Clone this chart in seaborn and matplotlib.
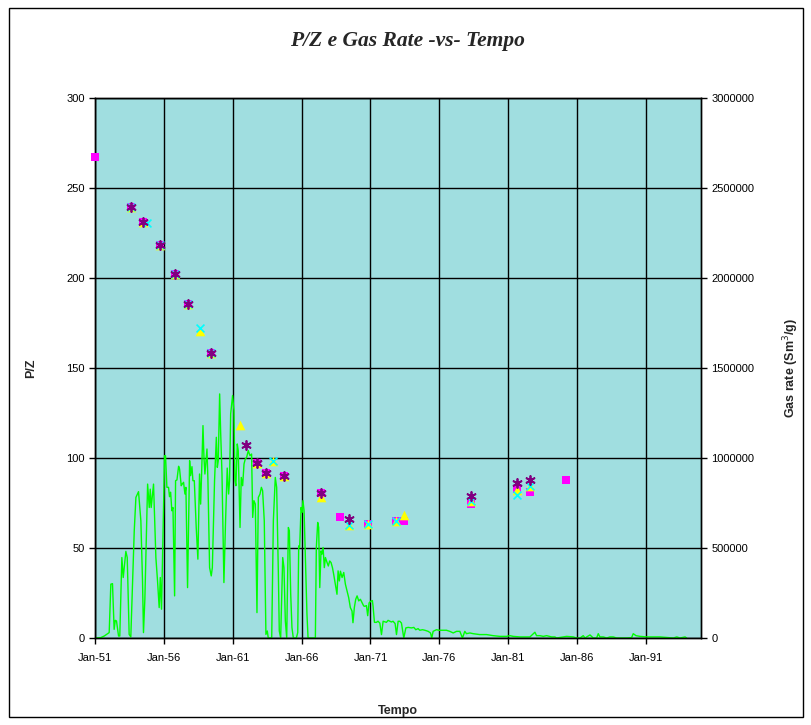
import matplotlib
matplotlib.use("Agg")
import matplotlib.pyplot as plt
import matplotlib.dates as mdates
from matplotlib.patches import Rectangle
from matplotlib.ticker import FuncFormatter, MultipleLocator
import pandas as pd
import seaborn as sns

# P/Z readings (decimal year, P/Z) - four measurement series
sq_year = [1951.00, 1953.63, 1954.50, 1955.74, 1956.83, 1957.74, 1959.44, 1962.76,
           1963.39, 1964.72, 1967.41, 1968.82, 1970.80, 1972.84, 1973.42, 1978.29,
           1981.61, 1982.58, 1985.21]
sq_pz = [267.0, 239.6, 231.0, 218.3, 202.1, 185.8, 158.5, 97.3,
         91.7, 89.8, 80.6, 67.5, 63.3, 64.8, 65.1, 74.6,
         82.8, 81.3, 88.0]

tri_year = [1953.63, 1954.50, 1955.74, 1956.83, 1957.74, 1958.65, 1959.44, 1961.50,
            1962.76, 1963.39, 1963.90, 1964.72, 1967.41, 1969.42, 1970.80, 1972.84,
            1973.42, 1978.29, 1981.61, 1982.58]
tri_pz = [239.6, 231.0, 218.3, 202.1, 185.8, 170.5, 158.5, 118.2,
          97.3, 91.7, 98.2, 89.8, 78.5, 62.9, 63.3, 64.8,
          68.5, 75.9, 82.4, 84.2]

x_year = [1953.63, 1954.79, 1955.74, 1956.83, 1957.74, 1958.65, 1959.44, 1963.90,
          1969.42, 1970.80, 1972.84, 1978.29, 1981.61, 1982.58]
x_pz = [239.6, 230.3, 218.3, 202.1, 185.8, 172.4, 158.5, 98.2,
        62.9, 63.3, 64.8, 75.9, 79.6, 84.2]

star_year = [1953.63, 1954.50, 1955.74, 1956.83, 1957.74, 1959.44, 1961.99, 1962.76,
             1963.39, 1964.72, 1967.41, 1969.42, 1978.29, 1981.61, 1982.58]
star_pz = [239.6, 230.9, 218.3, 202.1, 185.8, 158.5, 107.0, 97.3,
           91.7, 89.8, 80.6, 66.1, 78.7, 86.1, 88.0]

# Gas rate (decimal year, thousand Sm3/g)
rate_year = [
    1951.04, 1951.42, 1951.67, 1951.91, 1952.03, 1952.15, 1952.27, 1952.39, 1952.47, 1952.56,
    1952.71, 1952.80, 1952.95, 1953.05, 1953.24, 1953.34, 1953.48, 1953.60, 1953.85, 1953.97,
    1954.16, 1954.33, 1954.45, 1954.52, 1954.62, 1954.82, 1954.94, 1955.01, 1955.08, 1955.25,
    1955.42, 1955.54, 1955.66, 1955.74, 1955.83, 1955.93, 1956.05, 1956.12, 1956.22, 1956.34,
    1956.41, 1956.49, 1956.58, 1956.66, 1956.78, 1956.85, 1956.95, 1957.07, 1957.14, 1957.26,
    1957.33, 1957.43, 1957.53, 1957.60, 1957.72, 1957.87, 1957.94, 1958.04, 1958.11, 1958.21,
    1958.35, 1958.47, 1958.59, 1958.67, 1958.74, 1958.84, 1958.91, 1958.98, 1959.13, 1959.20,
    1959.32, 1959.44, 1959.52, 1959.68, 1959.81, 1959.88, 1959.95, 1960.05, 1960.12, 1960.22,
    1960.36, 1960.48, 1960.60, 1960.70, 1960.77, 1960.85, 1960.99, 1961.09, 1961.16, 1961.23,
    1961.33, 1961.40, 1961.53, 1961.62, 1961.72, 1961.82, 1961.91, 1962.01, 1962.13, 1962.25,
    1962.37, 1962.45, 1962.54, 1962.64, 1962.76, 1962.86, 1962.98, 1963.08, 1963.17, 1963.29,
    1963.41, 1963.51, 1963.58, 1963.83, 1963.95, 1964.09, 1964.19, 1964.31, 1964.38, 1964.48,
    1964.63, 1964.72, 1964.82, 1964.92, 1965.04, 1965.11, 1965.21, 1965.30, 1965.40, 1965.62,
    1965.72, 1965.79, 1965.86, 1965.96, 1966.03, 1966.10, 1966.18, 1966.27, 1966.39, 1966.47,
    1967.00, 1967.07, 1967.17, 1967.24, 1967.32, 1967.41, 1967.48, 1967.56, 1967.65, 1967.73,
    1967.85, 1967.94, 1968.04, 1968.14, 1968.24, 1968.33, 1968.45, 1968.57, 1968.65, 1968.74,
    1968.82, 1968.94, 1969.06, 1969.18, 1969.30, 1969.42, 1969.54, 1969.66, 1969.73, 1969.83,
    1969.93, 1970.03, 1970.15, 1970.27, 1970.39, 1970.51, 1970.59, 1970.71, 1970.80, 1970.90,
    1971.02, 1971.14, 1971.19, 1971.29, 1971.43, 1971.55, 1971.68, 1971.80, 1971.92, 1972.16,
    1972.28, 1972.52, 1972.64, 1972.79, 1972.89, 1973.01, 1973.13, 1973.25, 1973.42, 1973.57,
    1973.74, 1973.98, 1974.15, 1974.29, 1974.46, 1974.58, 1974.78, 1974.95, 1975.19, 1975.36,
    1975.45, 1975.55, 1975.79, 1975.99, 1976.28, 1976.52, 1976.76, 1977.01, 1977.25, 1977.49,
    1977.68, 1977.85, 1977.97, 1978.22, 1978.46, 1978.94, 1979.43, 1979.91, 1980.40, 1980.88,
    1981.12, 1981.37, 1981.85, 1982.58, 1982.94, 1983.06, 1983.30, 1983.55, 1983.79, 1984.15,
    1984.39, 1984.51, 1985.24, 1985.73, 1985.97, 1986.21, 1986.45, 1986.58, 1986.70, 1986.94,
    1987.18, 1987.42, 1987.54, 1987.66, 1987.91, 1988.15, 1988.39, 1988.63, 1988.87, 1989.60,
    1989.96, 1990.08, 1990.28, 1990.57, 1991.06, 1992.02, 1992.99, 1993.24, 1993.48, 1993.84,
    1993.96,
]
rate_k = [
    0, 2, 11, 24, 30, 299, 302, 48, 98, 95,
    11, 11, 447, 336, 481, 447, 20, 6, 596, 781,
    813, 651, 317, 30, 215, 855, 725, 827, 725, 855,
    447, 317, 169, 336, 160, 540, 1013, 1013, 837, 837,
    785, 810, 707, 725, 234, 874, 878, 954, 939, 846,
    855, 865, 800, 837, 280, 985, 902, 952, 874, 874,
    614, 438, 911, 744, 911, 1180, 1004, 911, 1050, 874,
    391, 345, 391, 874, 1115, 948, 985, 1356, 1152, 911,
    308, 651, 944, 800, 874, 1245, 1347, 1263, 874, 846,
    1078, 1041, 614, 892, 846, 967, 994, 1004, 1041, 1013,
    1022, 670, 763, 744, 141, 781, 800, 837, 818, 651,
    20, 39, 0, 0, 651, 892, 837, 373, 39, 0,
    447, 391, 95, 0, 614, 596, 243, 58, 0, 0,
    30, 512, 503, 725, 698, 763, 707, 466, 132, 0,
    0, 503, 642, 614, 280, 484, 466, 503, 391, 447,
    419, 400, 428, 419, 391, 354, 299, 243, 373, 317,
    371, 336, 364, 299, 262, 224, 169, 150, 85, 169,
    215, 234, 206, 215, 197, 178, 176, 180, 124, 195,
    204, 208, 176, 87, 87, 93, 83, 19, 93, 87,
    98, 89, 93, 80, 19, 93, 93, 83, 0, 56,
    59, 56, 59, 46, 52, 43, 46, 43, 37, 28,
    0, 37, 46, 43, 43, 43, 37, 28, 37, 37,
    0, 37, 24, 28, 24, 19, 19, 13, 9, 9,
    13, 9, 6, 6, 32, 13, 13, 9, 13, 6,
    6, 0, 9, 6, 0, 0, 13, 0, 6, 17,
    0, 0, 24, 6, 6, 0, 6, 6, 0, 0,
    2, 24, 13, 9, 6, 6, 0, 6, 0, 6,
    0,
]

x_ticks = ["1951-01-01", "1956-01-01", "1961-01-01", "1966-01-01", "1971-01-01",
           "1976-01-01", "1981-01-01", "1986-01-01", "1991-01-01"]
x_range = ["1951-01-01", "1995-01-01"]

BG = "#A0DEE0"


def to_date(years):
    start = pd.Timestamp("1951-01-01")
    return [start + pd.Timedelta(days=(y - 1951.0) * 365.25) for y in years]


rate = pd.DataFrame({"date": to_date(rate_year), "rate": [v * 1000 for v in rate_k]})

sns.set_style("ticks")
plt.rcParams["font.family"] = ["Liberation Sans", "DejaVu Sans"]

fig = plt.figure(figsize=(8.11, 7.25), dpi=100)
ax = fig.add_axes([95 / 811, 87 / 725, 606 / 811, 540 / 725])
ax2 = ax.twinx()

# rate axis sits behind, carries the background and gridlines
ax.set_zorder(2)
ax2.set_zorder(1)
ax.patch.set_visible(False)
ax2.patch.set_visible(True)
ax2.patch.set_facecolor(BG)

sns.lineplot(data=rate, x="date", y="rate", color="#00FF00", linewidth=1.0,
             estimator=None, sort=True, ax=ax2)

sns.scatterplot(x=to_date(sq_year), y=sq_pz, marker="s", color="#FF00FF",
                s=32, linewidth=0, ax=ax, zorder=3, clip_on=False)
sns.scatterplot(x=to_date(tri_year), y=tri_pz, marker="^", color="#FFFF00",
                s=48, linewidth=0, ax=ax, zorder=4, clip_on=False)
sns.scatterplot(x=to_date(x_year), y=x_pz, marker="x", color="#00FFFF",
                s=32, linewidth=1.2, ax=ax, zorder=5, clip_on=False)
sns.scatterplot(x=to_date(star_year), y=star_pz, marker=(6, 2, 0), color="#800080",
                s=42, linewidth=1.3, ax=ax, zorder=6, clip_on=False)

xlim = [pd.Timestamp(d) for d in x_range]
ax.set_xlim(xlim)
ax.set_ylim(0, 300)
ax2.set_ylim(0, 3000000)
ax.yaxis.set_major_locator(MultipleLocator(50))
ax2.yaxis.set_major_locator(MultipleLocator(500000))
ax2.yaxis.set_major_formatter(FuncFormatter(lambda v, _: f"{int(v)}"))

ticks = [pd.Timestamp(d) for d in x_ticks]
ax.set_xticks(ticks)
ax.xaxis.set_major_formatter(mdates.DateFormatter("%b-%y"))
ax2.xaxis.set_visible(True)
ax2.set_xticks(ticks)
ax2.tick_params(axis="x", bottom=False, labelbottom=False)
ax2.set_xlabel("")
ax2.grid(True, color="black", linewidth=1.0)
ax.grid(False)

for a in (ax, ax2):
    for sp in a.spines.values():
        sp.set_visible(True)
        sp.set_color("black")
        sp.set_linewidth(1.0)

ax.tick_params(axis="both", direction="out", length=4, width=1, labelsize=8, colors="black")
ax.tick_params(axis="x", pad=7)
ax2.tick_params(axis="y", direction="out", length=4, width=1, labelsize=8, colors="black")

ax.set_xlabel("Tempo", fontsize=9, fontweight="bold")
ax.set_ylabel("P/Z", fontsize=9, fontweight="bold")
ax2.set_ylabel("Gas rate (Sm$^3$/g)", fontsize=9, fontweight="bold")
ax.xaxis.set_label_coords(0.5, -0.124)
ax.yaxis.set_label_coords(-0.095, 0.5)
ax2.yaxis.set_label_coords(1.132, 0.5)

fig.text(0.503, 0.944, "P/Z e Gas Rate -vs- Tempo", ha="center", va="center",
         fontsize=15.5, fontweight="bold", fontstyle="italic", family="Liberation Serif")

fig.patches.append(Rectangle((9 / 811, 8 / 725), 794 / 811, 709 / 725, transform=fig.transFigure,
                             fill=False, edgecolor="black", linewidth=1.0))

fig.savefig("out.png", dpi=100)
